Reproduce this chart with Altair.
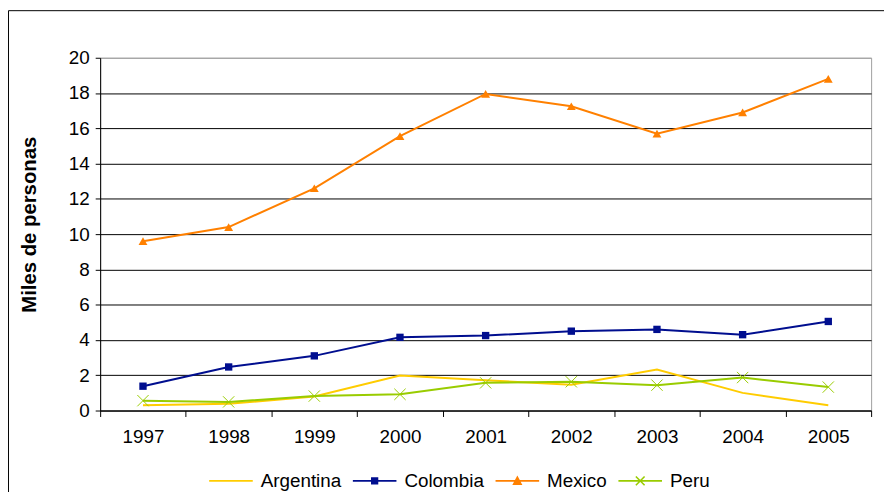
import altair as alt
import pandas as pd

years = ["1997", "1998", "1999", "2000", "2001", "2002", "2003", "2004", "2005"]
countries = ["Argentina", "Colombia", "Mexico", "Peru"]
argentina = [0.30, 0.38, 0.80, 1.98, 1.72, 1.46, 2.32, 1.00, 0.30]
colombia = [1.38, 2.47, 3.10, 4.15, 4.25, 4.50, 4.60, 4.30, 5.05]
mexico = [9.60, 10.40, 12.60, 15.56, 17.95, 17.25, 15.70, 16.90, 18.80]
peru = [0.56, 0.49, 0.82, 0.92, 1.57, 1.63, 1.44, 1.87, 1.33]
colors = ["#FFCC00", "#000E8F", "#FF8000", "#99CC00"]
y_ticks = [0, 2, 4, 6, 8, 10, 12, 14, 16, 18, 20]

series = {"Argentina": argentina, "Colombia": colombia, "Mexico": mexico, "Peru": peru}
rows = []
for c in countries:
    for yr, v in zip(years, series[c]):
        rows.append({"anio": yr, "pais": c, "valor": v})
df = pd.DataFrame(rows)

FONT = "Liberation Sans"

x_enc = alt.X(
    "anio:O",
    title=None,
    sort=years,
    scale=alt.Scale(type="band", paddingInner=0, paddingOuter=0, domain=years),
    axis=alt.Axis(
        labelAngle=0, labelFont=FONT, labelFontSize=19, labelColor="#000",
        domainColor="#000", domainWidth=1, tickColor="#000", tickSize=6,
        tickBand="extent", labelPadding=11, grid=False,
    ),
)
y_enc = alt.Y(
    "valor:Q",
    title="Miles de personas",
    scale=alt.Scale(domain=[0, 20], nice=False),
    axis=alt.Axis(
        values=y_ticks, labelFont=FONT, labelFontSize=19, labelColor="#000",
        domainColor="#000", tickColor="#000", tickSize=5, labelPadding=6,
        grid=True,
        gridColor={"condition": {"test": "datum.value == 20", "value": "#a0a0a0"}, "value": "#000"},
        gridWidth=1,
        titleFont=FONT, titleFontSize=20.5, titleFontWeight="bold", titleColor="#000",
        titleX=-71, titleY=168, titleAlign="center", titleBaseline="middle", titleAngle=270,
    ),
)

base = alt.Chart(df)

lines = base.mark_line(strokeWidth=2).encode(
    x=x_enc, y=y_enc,
    color=alt.Color("pais:N", scale=alt.Scale(domain=countries, range=colors), title=None),
)

col_pts = base.transform_filter(alt.datum.pais == "Colombia").mark_point(
    shape="square", filled=True, size=55, color=colors[1], opacity=1
).encode(x=x_enc, y=y_enc)

mex_pts = base.transform_filter(alt.datum.pais == "Mexico").mark_point(
    shape="triangle-up", filled=True, size=80, color=colors[2], opacity=1
).encode(x=x_enc, y=y_enc)

peru_pts = base.transform_filter(alt.datum.pais == "Peru").mark_point(
    shape="M-1,-1L1,1M-1,1L1,-1", filled=False, size=130, color=colors[3], strokeWidth=1, opacity=1
).encode(x=x_enc, y=y_enc)

legend_shapes = [
    "M-1,0H1",
    "M-1,0H1M-0.13,-0.13H0.13V0.13H-0.13Z",
    "M-1,0H1M0,-0.17L0.17,0.15H-0.17Z",
    "M-1,0H1M-0.2,-0.2L0.2,0.2M-0.2,0.2L0.2,-0.2",
]

legend_layer = base.mark_point(filled=True, size=1).encode(
    x=x_enc, y=y_enc,
    fill=alt.Fill("pais:N", scale=alt.Scale(domain=countries, range=colors), title=None),
    shape=alt.Shape("pais:N", scale=alt.Scale(domain=countries, range=legend_shapes), title=None),
)

frame = alt.Chart(alt.Data(values=[{"a": 1}])).mark_rect(
    filled=False, stroke="#000", strokeWidth=1
).encode(
    x=alt.value(-92.5), x2=alt.value(900), y=alt.value(-47.5), y2=alt.value(700)
)

chart = alt.layer(frame, lines, legend_layer, col_pts, mex_pts, peru_pts).properties(
    width=778, height=356,
    padding={"left": 93, "top": 48, "right": 13, "bottom": 80},
    autosize=alt.AutoSizeParams(type="none"),
    background="white",
).configure_view(
    stroke="#a0a0a0", strokeWidth=1
).configure_legend(
    orient="none", legendX=109, legendY=404, direction="horizontal",
    symbolSize=1936, symbolStrokeWidth=1.6, symbolOpacity=1,
    labelFont=FONT, labelFontSize=19, labelColor="#000", labelOffset=7,
    columnPadding=7, padding=0,
)

chart.save("out.html", embed_options={"renderer": "svg", "actions": False})
